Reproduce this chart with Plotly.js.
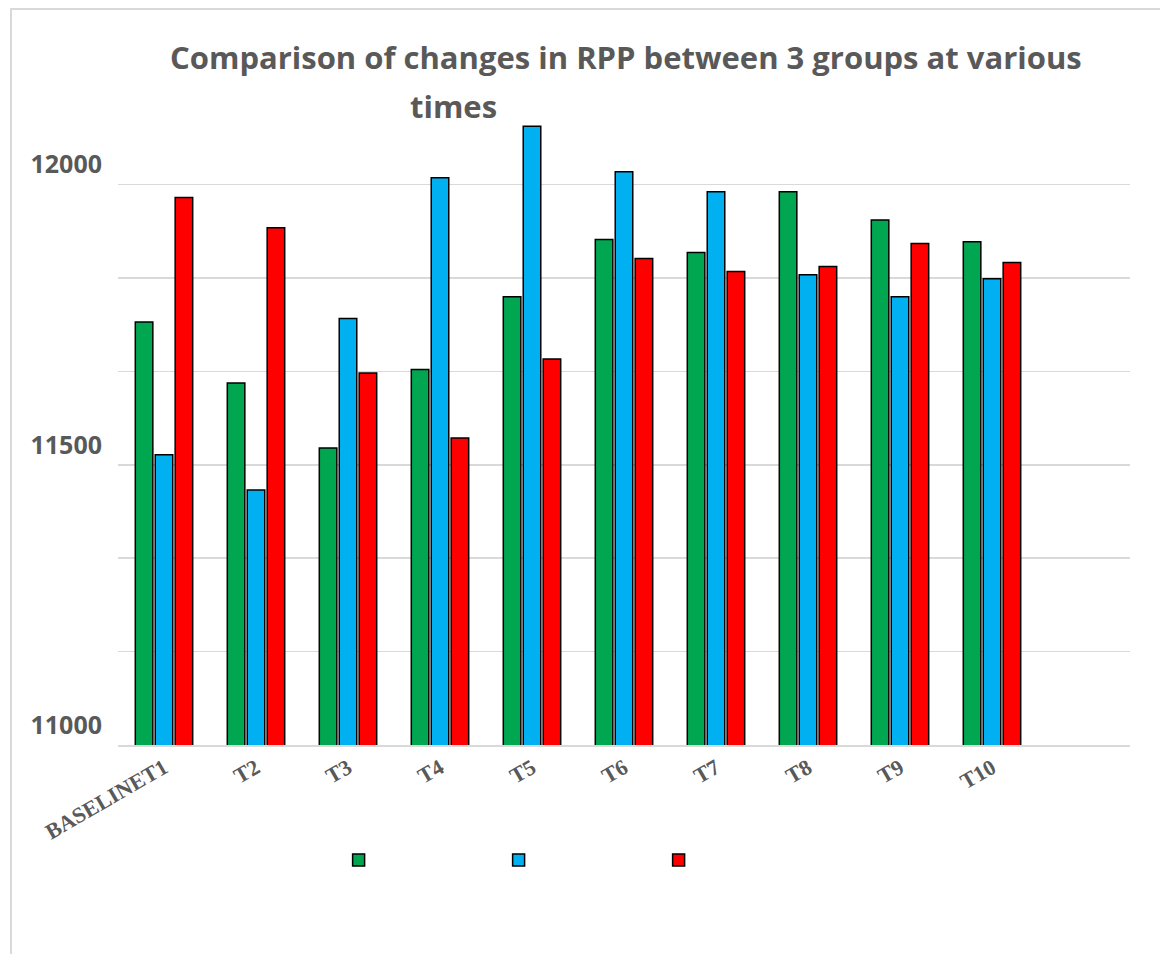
<!DOCTYPE html>
<html>
<head>
<meta charset="utf-8">
<script src="https://cdn.plot.ly/plotly-3.0.1.min.js"></script>
<style>
html,body{margin:0;padding:0;background:#fff;}
#chart{width:1160px;height:954px;}
</style>
</head>
<body>
<div id="chart"></div>
<script>
const categories = ["BASELINET1","T2","T3","T4","T5","T6","T7","T8","T9","T10"];
const group1 = [11755, 11646, 11530, 11670, 11800, 11902, 11879, 11987, 11937, 11898];
const group2 = [11518, 11455, 11761, 12012, 12104, 12023, 11987, 11839, 11800, 11832];
const group3 = [11977, 11923, 11664, 11548, 11689, 11868, 11845, 11854, 11895, 11861];
const tickValues = [11000, 11166.67, 11333.33, 11500, 11666.67, 11833.33, 12000, 12166.67];
const tickLabels = ["11000", "", "", "11500", "", "", "12000", ""];

const colors = ["#00A650", "#00B0F0", "#FF0000"];
const series = [group1, group2, group3];
const traces = series.map((vals, i) => ({
  type: "bar",
  x: categories,
  y: vals,
  name: "",
  marker: {color: colors[i], line: {color: "#000000", width: 1.5}},
  hoverinfo: "x+y"
}));

const layout = {
  width: 1160, height: 954,
  margin: {l: 118, r: 30, t: 91, b: 209},
  paper_bgcolor: "#ffffff", plot_bgcolor: "#ffffff",
  barmode: "group", bargap: 0.35, bargroupgap: 0.12,
  showlegend: true,
  legend: {orientation: "h", x: 0.218, y: -0.176, xanchor: "left", yanchor: "middle",
           entrywidth: 115, entrywidthmode: "pixels", font: {size: 12}},
  xaxis: {
    type: "category", range: [-0.5, 10.5],
    tickangle: -30,
    tickfont: {family: "Liberation Serif", size: 22, color: "#595959", weight: "bold"},
    showgrid: false, showline: true, linecolor: "#d9d9d9", linewidth: 1.5,
    ticks: "", zeroline: false
  },
  yaxis: {
    range: [11000, 12167],
    tickmode: "array", tickvals: tickValues, ticktext: tickLabels,
    showgrid: true, gridcolor: "#d9d9d9", gridwidth: 1.5,
    zeroline: false, showline: false, ticks: "",
    ticklabelstandoff: 15, ticklabelshift: -20,
    tickfont: {family: "Open Sans", size: 25, color: "#595959", weight: "bold"}
  },
  annotations: [
    {text: "Comparison of changes in RPP between 3 groups at various", xref: "paper", yref: "paper",
     x: (626 - 118) / 1012, y: (745 - 57) / 654, xanchor: "center", yanchor: "middle", showarrow: false,
     font: {family: "Open Sans", size: 31, color: "#595959", weight: "bold"}},
    {text: "times", xref: "paper", yref: "paper",
     x: (453 - 118) / 1012, y: (745 - 106) / 654, xanchor: "center", yanchor: "middle", showarrow: false,
     font: {family: "Open Sans", size: 31, color: "#595959", weight: "bold"}}
  ],
  shapes: [
    {type: "rect", xref: "paper", yref: "paper",
     x0: (11 - 118) / 1012, x1: (1175 - 118) / 1012,
     y0: (745 - 970) / 654, y1: (745 - 9) / 654,
     line: {color: "#d9d9d9", width: 2}, fillcolor: "rgba(0,0,0,0)", layer: "below"}
  ]
};

Plotly.newPlot("chart", traces, layout, {displayModeBar: false, staticPlot: true});
</script>
</body>
</html>
